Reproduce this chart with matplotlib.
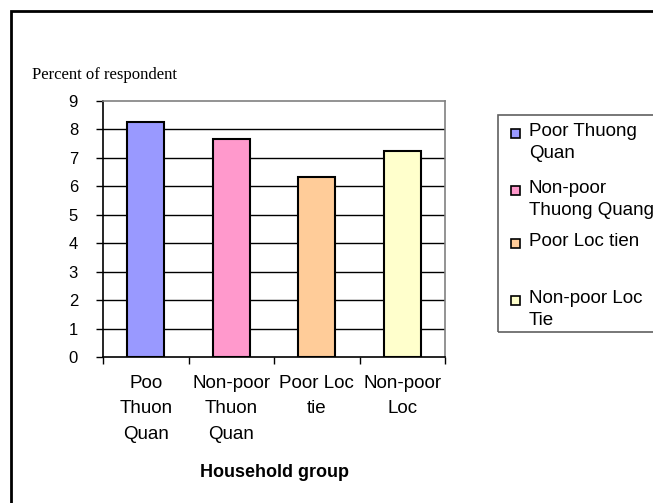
import matplotlib
matplotlib.use("Agg")
import matplotlib.pyplot as plt
from matplotlib.patches import Rectangle

# data
categories = ["Poo\nThuon\nQuan", "Non-poor\nThuon\nQuan", "Poor Loc\ntie", "Non-poor\nLoc"]
legend_labels = ["Poor Thuong\nQuan", "Non-poor\nThuong Quang", "Poor Loc tien", "Non-poor Loc\nTie"]
values = [8.27, 7.66, 6.34, 7.24]
colors = ["#9999FF", "#FF99CC", "#FFCC99", "#FFFFCC"]
yticks = list(range(0, 10))

W, H = 653, 503
fig = plt.figure(figsize=(W / 100, H / 100), dpi=100)
plt.rcParams["font.family"] = ["Liberation Sans", "DejaVu Sans"]

ax = fig.add_axes([103 / W, 1 - 357 / H, 342 / W, 256 / H])
x = list(range(len(values)))
ax.bar(x, values, width=0.43, color=colors, edgecolor="black", linewidth=1.5, zorder=3)

ax.set_xlim(-0.5, len(values) - 0.5)
ax.set_ylim(0, 9)
ax.set_yticks(yticks)
for t in yticks[1:-1]:
    ax.axhline(t, color="black", lw=1.0, zorder=1)

ax.set_xticks(x)
ax.set_xticklabels(categories, fontsize=13.5, linespacing=1.64)
ax.set_xticks([i - 0.5 for i in range(len(values) + 1)], minor=True)
ax.tick_params(axis="x", which="major", length=0, pad=13)
ax.tick_params(axis="x", which="minor", length=5, width=1, direction="out")
ax.tick_params(axis="y", length=5, width=1, pad=13, labelsize=12)

for s in ["top", "right"]:
    ax.spines[s].set_color("#808080")
    ax.spines[s].set_linewidth(1.2)
for s in ["left", "bottom"]:
    ax.spines[s].set_color("black")
    ax.spines[s].set_linewidth(1.2)

ax.set_xlabel("Household group", fontsize=13, fontweight="bold", labelpad=15)

fig.text(32 / W, 1 - 79 / H, "Percent of respondent", family="Liberation Serif",
         fontsize=12, ha="left", va="baseline")

# outer frame (runs off the right and bottom edges)
fig.patches.append(Rectangle((11 / W, -0.05), 1.2, 1 - 11 / H + 0.05, transform=fig.transFigure,
                             fill=False, edgecolor="black", linewidth=2))

# legend box, drawn by hand to match the spacing
fig.patches.append(Rectangle((498 / W, 1 - 332 / H), 0.5, 217 / H, transform=fig.transFigure,
                             fill=False, edgecolor="#606060", linewidth=1.2))
tops = [123, 180, 233, 290]
for ytop, lab, col in zip(tops, legend_labels, colors):
    fig.patches.append(Rectangle((511 / W, 1 - (ytop + 15) / H), 9 / W, 9 / H, transform=fig.transFigure,
                                 facecolor=col, edgecolor="black", linewidth=1.2))
    fig.text(529 / W, 1 - ytop / H, lab, fontsize=13.5, ha="left", va="top", linespacing=1.35)

fig.savefig("out.png", dpi=100)
